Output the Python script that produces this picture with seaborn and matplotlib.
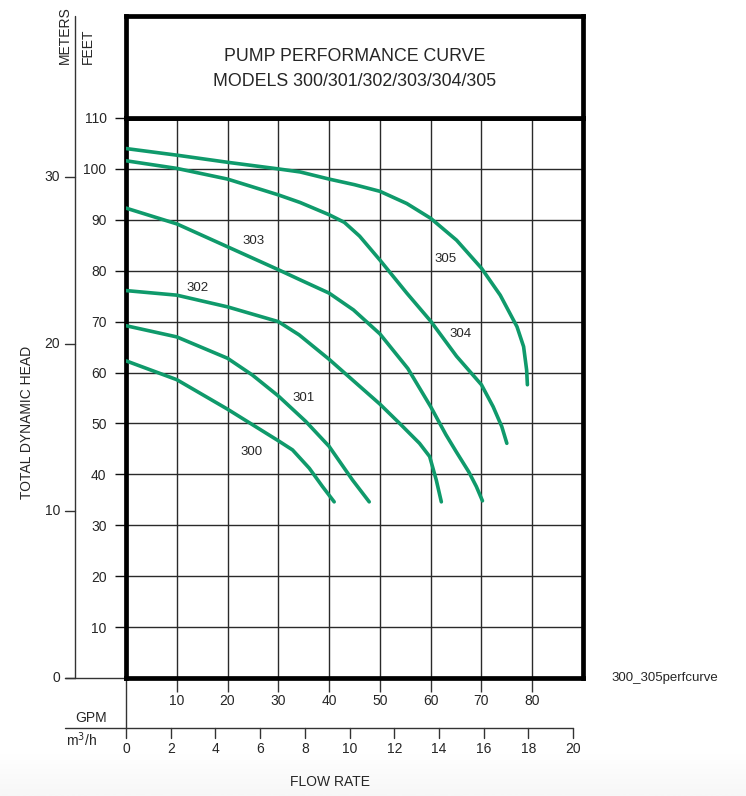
import numpy as np
import pandas as pd
import seaborn as sns
import matplotlib.pyplot as plt

# pump curves (flow in GPM, head in feet)
gpm_300 = [0, 10, 20, 30, 32.8, 36.1, 38.7, 41.0]
head_300 = [62.3, 58.6, 52.8, 46.6, 44.8, 41.2, 37.6, 34.6]

gpm_301 = [0, 10, 20, 24.9, 30, 35.4, 40, 44.6, 47.9]
head_301 = [69.2, 67.0, 62.8, 59.5, 55.4, 50.4, 45.5, 38.9, 34.6]

gpm_302 = [0, 10, 20, 30, 34.1, 40, 45, 50, 54, 57.8, 59.8, 61.1, 62.1]
head_302 = [76.1, 75.2, 72.9, 70.0, 67.4, 62.6, 58.2, 53.8, 49.9, 46.1, 43.5, 38.9, 34.6]

gpm_303 = [0, 10, 20, 30, 34.1, 40, 44.8, 50, 55.5, 60, 63, 65, 67.5, 69, 70.2]
head_303 = [92.3, 89.2, 84.7, 80.2, 78.3, 75.6, 72.3, 67.6, 60.8, 53.3, 47.8, 44.5, 40.5, 37.6, 34.8]

gpm_304 = [0, 10, 20, 30, 34.3, 40, 43, 46, 50, 55.3, 60, 65.1, 70, 72.3, 74, 75]
head_304 = [101.6, 100.1, 98.0, 94.9, 93.4, 91.0, 89.5, 86.8, 82.1, 75.6, 70.1, 63.2, 57.6, 53.3, 49.4, 46.1]

gpm_305 = [0, 10, 20, 30, 34.3, 40, 45, 50, 55.3, 60, 65.1, 70, 73.7, 77, 78.3, 78.9, 79.05]
head_305 = [104.0, 102.7, 101.3, 100.0, 99.4, 98.0, 96.9, 95.6, 93.2, 90.3, 86.0, 80.5, 75.2, 69.0, 65.1, 60.5, 57.6]

models = ["300", "301", "302", "303", "304", "305"]
# where each model number is written (GPM, feet)
label_gpm = [24.7, 34.9, 14.0, 25.2, 65.9, 62.9]
label_head = [44.4, 55.0, 76.6, 85.9, 67.6, 82.3]

gpm_ticks = [10, 20, 30, 40, 50, 60, 70, 80]
feet_ticks = [10, 20, 30, 40, 50, 60, 70, 80, 90, 100, 110]
meter_ticks = [0, 10, 20, 30]
m3h_ticks = [0, 2, 4, 6, 8, 10, 12, 14, 16, 18, 20]

GREEN = "#0f9a6b"

rows = []
for m, xs, ys in zip(models,
                     [gpm_300, gpm_301, gpm_302, gpm_303, gpm_304, gpm_305],
                     [head_300, head_301, head_302, head_303, head_304, head_305]):
    for x, y in zip(xs, ys):
        rows.append({"model": m, "gpm": x, "head": y})
df = pd.DataFrame(rows)

sns.set_style("white")
plt.rcParams["font.family"] = ["Liberation Sans", "DejaVu Sans"]

fig = plt.figure(figsize=(7.46, 7.96), dpi=100)
W, H = 746, 796

# faint grey fade at the very bottom of the picture (white on top, light grey at the edge)
bg = fig.add_axes([0, 0, 1, 44 / H])
bg.imshow(np.linspace(0, 0.07, 50).reshape(-1, 1), aspect="auto", cmap="Greys",
          vmin=0, vmax=1, extent=[0, 1, 0, 1])
bg.axis("off")

ax = fig.add_axes([126 / W, 118 / H, 457 / W, 560 / H])
ax.set_xlim(0, 90)
ax.set_ylim(0, 110)


def px2x(px):
    return (px - 126) * 90 / 457


def px2y(py):
    return (678 - py) * 110 / 560


sns.lineplot(data=df, x="gpm", y="head", hue="model", units="model", estimator=None,
             palette={m: GREEN for m in models}, sort=False, linewidth=2.6,
             legend=False, ax=ax, zorder=3, solid_joinstyle="round")

for m, lx, ly in zip(models, label_gpm, label_head):
    ax.text(lx, ly, m, fontsize=9.5, ha="center", va="center", zorder=4)

ax.set_xticks(gpm_ticks)
ax.set_yticks(feet_ticks)
ax.set_xticklabels([str(t) for t in gpm_ticks])
ax.set_yticklabels([str(t) for t in feet_ticks])
ax.grid(True, color="#2a2a2a", linewidth=1.0)
ax.tick_params(axis="x", direction="out", length=10, width=1, pad=1.5, labelsize=10,
               bottom=True, color="#333")
ax.tick_params(axis="y", direction="out", length=8, width=1, pad=6, labelsize=10,
               left=True, color="#111")
ax.set_xlabel("")
ax.set_ylabel("")
for s in ax.spines.values():
    s.set_linewidth(3.4)
    s.set_color("black")

# title box above the plot
tax = fig.add_axes([126 / W, (H - 118) / H, 457 / W, 102 / H])
tax.set_xticks([])
tax.set_yticks([])
for s in tax.spines.values():
    s.set_linewidth(3.4)
    s.set_color("black")
tax.text(0.5, 0.6, "PUMP PERFORMANCE CURVE", ha="center", va="center", fontsize=12.8,
         transform=tax.transAxes)
tax.text(0.5, 0.355, "MODELS 300/301/302/303/304/305", ha="center", va="center", fontsize=12.8,
         transform=tax.transAxes)

# meters scale on the far left
kw = dict(color="#333", linewidth=1, clip_on=False)
ax.plot([px2x(75), px2x(75)], [px2y(16), 0], **kw)
ax.plot([px2x(65), 0], [0, 0], **kw)
for m in meter_ticks:
    ft = m * 3.28084
    ax.plot([px2x(65), px2x(75)], [ft, ft], **kw)
    ax.text(px2x(60), ft, str(m), ha="right", va="center", fontsize=10)

ax.text(px2x(65), px2y(64), "METERS", rotation=90, ha="center", va="bottom", fontsize=10)
ax.text(px2x(88), px2y(64), "FEET", rotation=90, ha="center", va="bottom", fontsize=10)
ax.text(px2x(27), px2y(422), "TOTAL DYNAMIC HEAD", rotation=90, ha="center", va="center",
        fontsize=10)

# cubic metres per hour scale below the GPM one
y_m3 = px2y(728)
ax.plot([0, 0], [0, y_m3], **kw)
ax.plot([px2x(65), px2x(573)], [y_m3, y_m3], **kw)
for t in m3h_ticks:
    g = t * 4.4029
    ax.plot([g, g], [y_m3, px2y(738)], **kw)
    ax.text(g, px2y(749), str(t), ha="center", va="center", fontsize=10)

ax.text(px2x(91), px2y(718), "GPM", ha="center", va="center", fontsize=10)
ax.text(px2x(66), px2y(740), "m$^3$/h", ha="left", va="center", fontsize=10)
ax.text(px2x(330), px2y(782), "FLOW RATE", ha="center", va="center", fontsize=10)
ax.text(px2x(665), px2y(678), "300_305perfcurve", ha="center", va="center", fontsize=9.5)

fig.savefig("out.png", dpi=100)
